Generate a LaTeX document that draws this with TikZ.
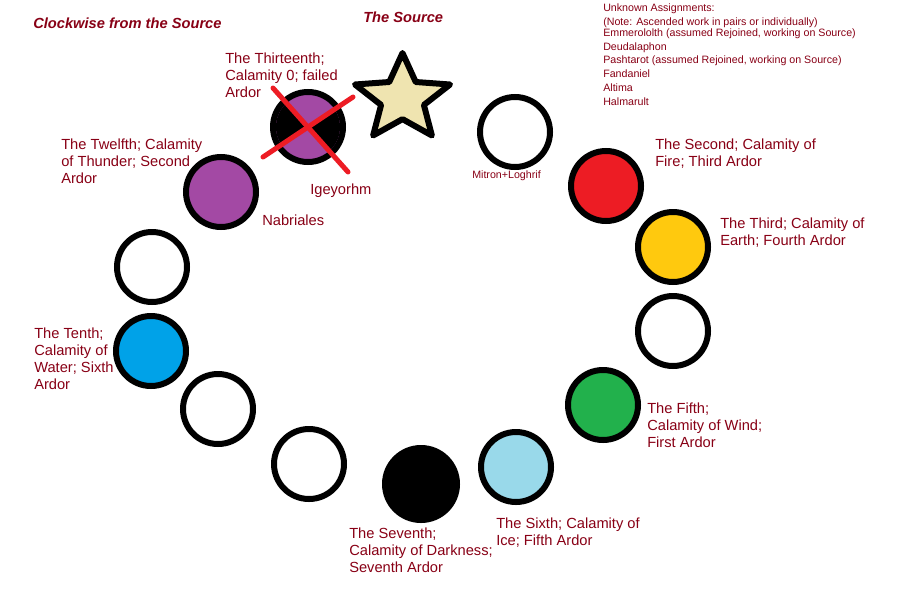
\documentclass[tikz,border=0pt]{standalone}
\usepackage{fontspec}
\setmainfont{Liberation Sans}
\definecolor{txtred}{RGB}{136,0,21}
\definecolor{thunder}{RGB}{163,73,164}
\definecolor{fire}{RGB}{237,28,36}
\definecolor{earth}{RGB}{255,201,14}
\definecolor{wind}{RGB}{34,177,76}
\definecolor{ice}{RGB}{153,217,234}
\definecolor{water}{RGB}{0,162,232}
\definecolor{sourcetan}{RGB}{239,228,176}
\begin{document}
\begin{tikzpicture}[x=0.75pt,y=-0.75pt,
  ring/.style={line width=4.5pt,draw=black},
  cross/.style={line width=3.75pt,draw=fire,line cap=round},
  lbl/.style={text=txtred,font=\fontsize{11}{12.75}\selectfont,inner sep=0pt,align=left,anchor=north west},
  tag/.style={text=txtred,font=\fontsize{11}{12.75}\selectfont,inner sep=0pt,anchor=west},
  small/.style={text=txtred,font=\fontsize{8}{10.4}\selectfont,inner sep=0pt,align=left,anchor=north west},
  head/.style={text=txtred,font=\fontsize{11}{13}\selectfont\bfseries\itshape,inner sep=0pt,anchor=west}]

\useasboundingbox (0,0) rectangle (905,596);

\draw[ring,fill=thunder]  (308,127) node (thirteenth) {} circle (35);
\begin{scope}
\clip (308,127) circle (32);
\fill[black] (308,127) -- (273,88) -- (230,88) -- (230,157) -- (263,157) -- cycle;
\fill[black] (308,127) -- (353,97) -- (390,97) -- (390,172) -- (348,172) -- cycle;
\end{scope}
\draw[cross] (273,88) -- (348,172);
\draw[cross] (263,157) -- (353,97);

\begin{scope}[shift={(402.5,98.6)},x=37.5pt,y=34.2pt]
\draw[ring,fill=sourcetan,line join=round] (90:1) node (source) {} -- (126:0.45) -- (162:1) -- (198:0.45) -- (234:1) -- (270:0.45) -- (306:1) -- (342:0.45) -- (18:1) -- (54:0.45) -- cycle;
\end{scope}

\draw[ring,fill=white]  (515,132) node (first) {} circle (35);
\draw[ring,fill=fire]  (606,186) node (second) {} circle (35);
\draw[ring,fill=earth]  (673,247) node (third) {} circle (35);
\draw[ring,fill=white]  (673,331) node (fourth) {} circle (35);
\draw[ring,fill=wind]  (603,405) node (fifth) {} circle (35);
\draw[ring,fill=ice]  (516,467) node (sixth) {} circle (35);
\draw[ring,fill=black]  (421,484) node (seventh) {} circle (36);
\draw[ring,fill=white]  (309,464) node (eighth) {} circle (35);
\draw[ring,fill=white]  (218,409) node (ninth) {} circle (35);
\draw[ring,fill=water]  (151,351) node (tenth) {} circle (35);
\draw[ring,fill=white]  (152,267) node (eleventh) {} circle (35);
\draw[ring,fill=thunder]  (221,192) node (twelfth) {} circle (35);

\node[head] (title) at (33,23) {Clockwise from the Source};
\node[head] (sourcetitle) at (363,17) {The Source};

\node[small] (unknown) at (603,4) {Unknown Assignments:\\(Note: Ascended work in pairs or individually)\\[-2.6pt]Emmerololth (assumed Rejoined, working on Source)\\Deudalaphon\\Pashtarot (assumed Rejoined, working on Source)\\Fandaniel\\Altima\\Halmarult};

\node[lbl] (thirteenthtxt) at (225,52.5) {The Thirteenth;\\Calamity 0; failed\\Ardor};
\node[lbl] (twelfthtxt) at (61,138.5) {The Twelfth; Calamity\\of Thunder; Second\\Ardor};
\node[tag] (igeyorhm) at (310,191) {Igeyorhm};
\node[tag] (nabriales) at (262,220) {Nabriales};
\node[small,anchor=west] (mitron) at (472,176) {Mitron+Loghrif};
\node[lbl] (secondtxt) at (655,138.5) {The Second; Calamity of\\Fire; Third Ardor};
\node[lbl] (thirdtxt) at (720,217.5) {The Third; Calamity of\\Earth; Fourth Ardor};
\node[lbl] (fifthtxt) at (647,402.5) {The Fifth;\\Calamity of Wind;\\First Ardor};
\node[lbl] (sixthtxt) at (496,517.5) {The Sixth; Calamity of\\Ice; Fifth Ardor};
\node[lbl] (seventhtxt) at (349,527.5) {The Seventh;\\Calamity of Darkness;\\Seventh Ardor};
\node[lbl] (tenthtxt) at (34,327.5) {The Tenth;\\Calamity of\\Water; Sixth\\Ardor};

\end{tikzpicture}
\end{document}
